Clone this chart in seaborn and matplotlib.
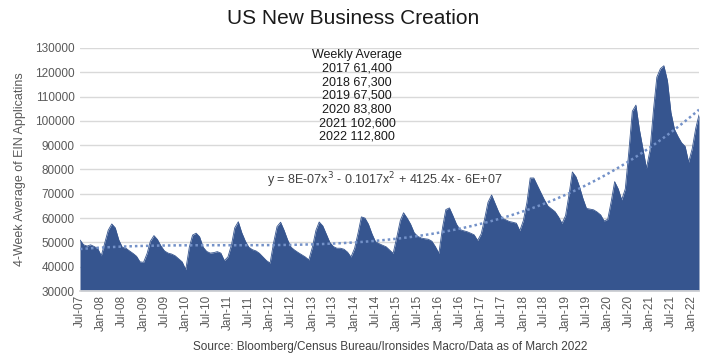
import warnings
import numpy as np
import pandas as pd
import matplotlib
matplotlib.use('Agg')
import matplotlib.pyplot as plt
import matplotlib.dates as mdates
import seaborn as sns

warnings.filterwarnings('ignore')

sns.set_theme(style='white')
plt.rcParams['font.family'] = ['Liberation Sans', 'DejaVu Sans']

# Monthly readings of the 4-week average of EIN applications, Jul-2007 .. Mar-2022
start_month = '2007-07-01'
ein_apps = [
    51000, 49000, 48500, 49000, 48300, 47500, 44500, 50000, 55000, 57600, 56000, 51000,
    48000, 47600, 46500, 45500, 44300, 42000, 41800, 45500, 50500, 52800, 51200, 48500,
    46500, 45600, 45200, 44500, 43200, 42000, 38800, 48000, 53000, 53800, 52300, 48000,
    46300, 45600, 45800, 46200, 45600, 42500, 44000, 49000, 56000, 58500, 54000, 50500,
    48000, 47000, 46500, 45500, 44000, 42500, 41500, 50000, 56500, 58300, 55000, 51000,
    48000, 46800, 45800, 44900, 44000, 42800, 48000, 55000, 58400, 56800, 53500, 50000,
    48300, 47600, 47600, 47200, 46000, 44000, 47500, 54000, 60500, 60000, 57500, 53500,
    50300, 49500, 48800, 48200, 46800, 45500, 52000, 59000, 62200, 60000, 57500, 54000,
    52500, 51800, 51500, 51300, 50500, 48300, 45500, 56000, 63500, 64200, 61000, 57500,
    55300, 54800, 54400, 53800, 53100, 50800, 53500, 60000, 66500, 69500, 66000, 62500,
    60000, 59300, 58600, 58300, 57900, 54800, 59000, 66500, 76500, 76500, 73500, 70500,
    67600, 65000, 63800, 62700, 60500, 57800, 61000, 70000, 79000, 77000, 73000, 68000,
    64000, 63700, 63400, 62500, 61300, 58800, 59500, 67000, 75000, 72000, 67500, 72000,
    87000, 104000, 106500, 96500, 88500, 80500, 88000, 105000, 118000, 121500, 122700, 116500,
    103500, 96500, 93500, 91000, 89500, 83000, 88500, 97000, 102500,
]

summary_years = ['2017', '2018', '2019', '2020', '2021', '2022']
summary_avgs = ['61,400', '67,300', '67,500', '83,800', '102,600', '112,800']
trend_label = 'y = 8E-07x$^3$ - 0.1017x$^2$ + 4125.4x - 6E+07'

df = pd.DataFrame({
    'date': pd.date_range(start_month, periods=len(ein_apps), freq='MS'),
    'apps': ein_apps,
})
df['dnum'] = mdates.date2num(df['date'])

area_color = '#36558F'
trend_color = '#7391C8'
text_grey = '#595959'

fig = plt.figure(figsize=(7.06, 3.6), dpi=100)
ax = fig.add_axes([80 / 706, 1 - 291 / 360, 619 / 706, 243 / 360])

ax.fill_between(df['dnum'], 30000, df['apps'], color=area_color, linewidth=0, zorder=2)
sns.lineplot(data=df, x='dnum', y='apps', ax=ax, color=area_color, linewidth=0.6, zorder=3)

# cubic trend line, as in the original chart
sns.regplot(data=df, x='dnum', y='apps', order=3, scatter=False, ci=None, ax=ax,
            line_kws=dict(color=trend_color, linewidth=1.8, linestyle=(0, (1, 1.2)), zorder=4))

ax.set_ylim(30000, 130000)
ax.set_yticks(np.arange(30000, 130001, 10000))
ax.set_xlim(df['dnum'].iloc[0], df['dnum'].iloc[-1])
ax.xaxis.set_major_locator(mdates.MonthLocator(bymonth=[1, 7]))
ax.xaxis.set_major_formatter(mdates.DateFormatter('%b-%y'))
ax.tick_params(axis='x', rotation=90, length=0, pad=3, labelsize=8.5, labelcolor=text_grey)
ax.tick_params(axis='y', length=0, pad=4, labelsize=8.5, labelcolor=text_grey)

ax.grid(axis='y', color='#D9D9D9', linewidth=1, zorder=0)
ax.set_axisbelow(True)
for side in ['left', 'right', 'top']:
    ax.spines[side].set_visible(False)
ax.spines['bottom'].set_color('#D9D9D9')
ax.spines['bottom'].set_zorder(5)

ax.set_xlabel('')
ax.set_ylabel('4-Week Average of EIN Applicatins', fontsize=9, color=text_grey, labelpad=6)

fig.text(0.5, 0.948, 'US New Business Creation', ha='center', va='center',
         fontsize=15, color='#1a1a1a')

# weekly average summary block
lines = ['Weekly Average'] + [f'{y} {v}' for y, v in zip(summary_years, summary_avgs)]
for i, line in enumerate(lines):
    fig.text(357 / 706, 1 - (55 + i * 13.6) / 360, line, ha='center', va='center',
             fontsize=9, color='#1a1a1a')

fig.text(385 / 706, 1 - 180 / 360, trend_label, ha='center', va='center',
         fontsize=9, color='#404040')

fig.text(390 / 706, 1 - 347 / 360,
         'Source: Bloomberg/Census Bureau/Ironsides Macro/Data as of March 2022',
         ha='center', va='center', fontsize=8.5, color='#404040')

fig.savefig('out.png', dpi=100)
plt.close()
